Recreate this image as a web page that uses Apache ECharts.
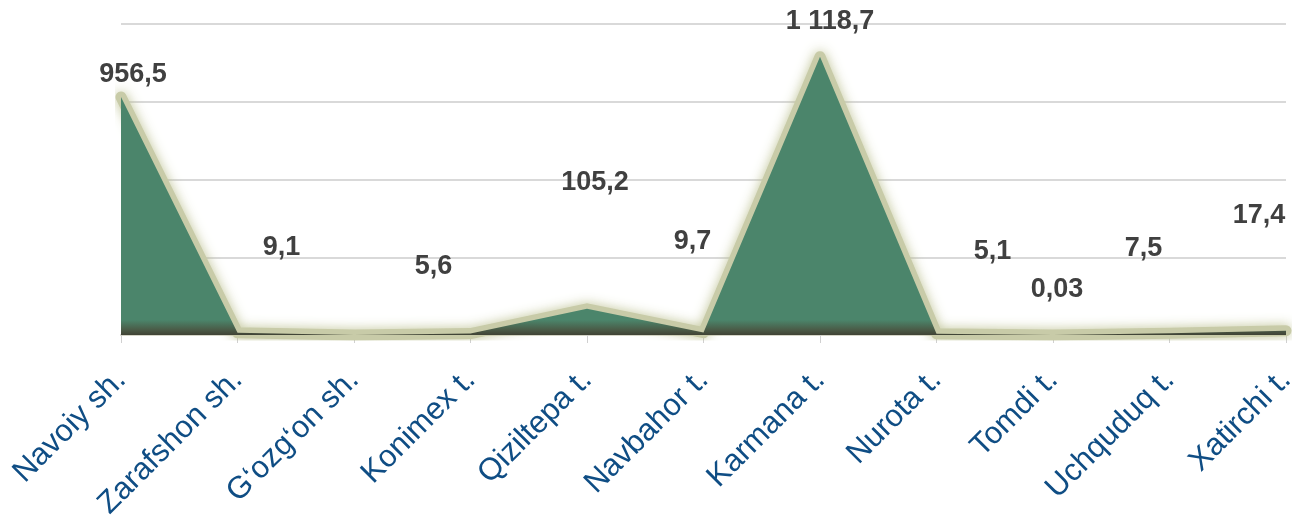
<!DOCTYPE html>
<html>
<head>
<meta charset="utf-8">
<style>
  html, body { margin: 0; padding: 0; background: #ffffff; }
  #chart { width: 1296px; height: 515px; }
</style>
<script src="https://cdn.jsdelivr.net/npm/echarts@6/dist/echarts.min.js"></script>
</head>
<body>
<div id="chart"></div>
<script>
// Districts and cities of Navoiy region
const categories = [
  'Navoiy sh.', 'Zarafshon sh.', 'G\u2018ozg\u2018on sh.', 'Konimex t.', 'Qiziltepa t.',
  'Navbahor t.', 'Karmana t.', 'Nurota t.', 'Tomdi t.', 'Uchquduq t.', 'Xatirchi t.'
];
// Values per district
const values = [956.5, 9.1, 0, 5.6, 105.2, 9.7, 1118.7, 5.1, 0.03, 7.5, 17.4];
// Which points carry a value label
const labelled = [true, true, false, true, true, true, true, true, true, true, true];

// Label placement relative to each point (pixels)
const labelOffsets = [
  [12, -22], [44, -85], [0, 0], [-37, -67], [8, -126], [-11, -91],
  [10, -35], [56, -82], [4, -45], [-26, -85], [-27, -115]
];

const fmt = v => {
  const parts = String(v).split('.');
  parts[0] = parts[0].replace(/\B(?=(\d{3})+(?!\d))/g, ' ');
  return parts.join(',');
};

const chart = echarts.init(document.getElementById('chart'), null, { renderer: 'canvas' });

const green = '#4b856b';

const areaData = values.map((v, i) => ({
  value: v,
  label: {
    show: labelled[i],
    offset: labelOffsets[i]
  }
}));

chart.setOption({
  animation: false,
  grid: { left: 121, right: 10, top: 24, bottom: 180, containLabel: false, outerBoundsMode: 'none' },
  xAxis: {
    type: 'category',
    data: categories,
    boundaryGap: false,
    axisLine: { show: true, lineStyle: { color: '#d6d6c8', width: 2 } },
    axisTick: { show: true, length: 8, alignWithLabel: true, lineStyle: { color: '#d0d0d0', width: 1 } },
    axisLabel: {
      interval: 0,
      rotate: 45,
      margin: 40,
      color: '#0f4d84',
      fontFamily: 'Liberation Sans, Arial, sans-serif',
      fontSize: 31
    },
    splitLine: { show: false }
  },
  yAxis: {
    type: 'value',
    min: 0,
    max: 1250,
    interval: 312.5,
    axisLabel: { show: false },
    axisLine: { show: false },
    axisTick: { show: false },
    splitLine: { show: true, lineStyle: { color: '#d9d9d9', width: 2 } }
  },
  series: [
    {
      // soft glow drawn beneath the filled area
      type: 'line',
      data: values,
      z: 1,
      silent: true,
      symbol: 'none',
      lineStyle: {
        color: 'rgba(200,203,168,1)',
        width: 11,
        shadowBlur: 12,
        shadowColor: 'rgba(185,190,140,0.9)',
        join: 'round',
        cap: 'round'
      }
    },
    {
      type: 'line',
      data: areaData,
      z: 2,
      symbol: 'circle',
      symbolSize: 1,
      showSymbol: true,
      itemStyle: { color: 'rgba(0,0,0,0)' },
      lineStyle: { width: 0, opacity: 0 },
      areaStyle: {
        opacity: 1,
        color: {
          type: 'linear', x: 0, y: 0, x2: 0, y2: 336, global: true,
          colorStops: [
            { offset: 0, color: green },
            { offset: 320 / 336, color: green },
            { offset: 330 / 336, color: '#4a5a46' },
            { offset: 1, color: '#3e3e32' }
          ]
        }
      },
      label: {
        show: true,
        position: 'inside',
        formatter: p => fmt(p.value),
        color: '#404040',
        fontWeight: 'bold',
        fontFamily: 'Liberation Sans, Arial, sans-serif',
        fontSize: 27
      }
    }
  ]
});
</script>
</body>
</html>
